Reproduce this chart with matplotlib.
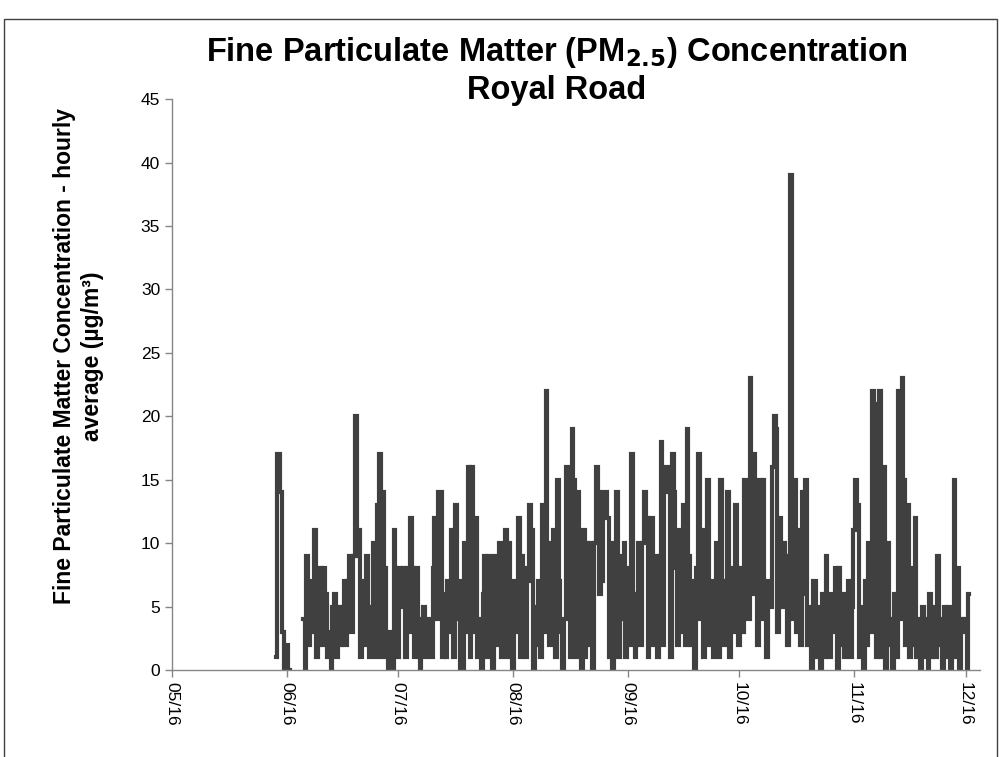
import numpy as np
import pandas as pd
import matplotlib
matplotlib.use("Agg")
import matplotlib.pyplot as plt
import matplotlib.dates as mdates
from matplotlib.patches import Rectangle

plt.rcParams['font.family'] = ['Liberation Sans', 'DejaVu Sans']

# PM2.5 readings, one value every 12 hours (nan = no data)
nan = np.nan
may_vals = [1, 17, 17, 14, 3, 0]
jun_vals = [2, 0, nan, nan, nan, nan, nan, nan, nan, 4, 0, 9, 2, 7, 3, 11, 1, 6, 8, 2,
            8, 6, 1, 3, 0, 5, 6, 1, 5, 2, 5, 7, 2, 7, 9, 3, 9, 20, 9, 11,
            1, 7, 2, 9, 5, 1, 5, 10, 1, 13, 17, 1, 14, 8, 1, 0, 3, 0, 11, 8]
jul_vals = [1, 8, 5, 8, 1, 8, 3, 12, 8, 1, 8, 4, 0, 2, 5, 1, 2, 4, 1, 8,
            12, 4, 14, 14, 1, 6, 1, 7, 3, 11, 1, 13, 4, 7, 0, 0, 10, 3, 16, 1,
            16, 3, 12, 1, 4, 0, 6, 9, 1, 9, 6, 0, 9, 2, 4, 10, 1, 4, 11, 1, 10, 2]
aug_vals = [0, 7, 3, 12, 1, 9, 8, 1, 7, 13, 11, 0, 5, 2, 7, 1, 13, 3, 22, 10,
            2, 7, 11, 1, 15, 7, 3, 0, 4, 16, 9, 1, 19, 15, 1, 14, 10, 0, 11, 1,
            10, 2, 10, 0, 10, 16, 14, 6, 7, 14, 14, 12, 1, 10, 0, 8, 14, 1, 9, 4, 10, 1]
sep_vals = [8, 2, 17, 6, 1, 6, 10, 2, 10, 14, 12, 1, 7, 12, 2, 9, 1, 9, 18, 2,
            16, 16, 14, 1, 17, 14, 8, 2, 11, 3, 13, 2, 19, 9, 2, 7, 0, 8, 17, 4,
            11, 1, 6, 15, 2, 7, 1, 4, 10, 1, 15, 7, 2, 7, 14, 1, 8, 3, 13, 8]
oct_vals = [2, 8, 3, 15, 10, 4, 23, 6, 17, 14, 2, 15, 4, 15, 5, 1, 7, 5, 16, 20,
            19, 3, 12, 5, 10, 9, 2, 9, 39, 4, 15, 3, 11, 2, 14, 6, 15, 2, 5, 0,
            7, 7, 1, 5, 0, 6, 1, 9, 2, 1, 6, 3, 8, 0, 8, 2, 6, 1, 2, 7, 1, 5]
nov_vals = [11, 15, 13, 1, 5, 0, 7, 2, 10, 3, 22, 21, 1, 10, 22, 1, 16, 0, 10, 2,
            4, 0, 6, 1, 22, 4, 23, 15, 2, 13, 1, 8, 2, 12, 1, 4, 0, 5, 1, 4,
            0, 6, 1, 5, 1, 9, 2, 4, 0, 5, 1, 5, 0, 2, 15, 1, 8, 0, 4, 3]
dec_vals = [4, 0, 6]

series_start = "2016-05-29 00:00"
step = "12h"

pm25 = np.array(may_vals + jun_vals + jul_vals + aug_vals + sep_vals
                + oct_vals + nov_vals + dec_vals, dtype=float)
times = pd.date_range(series_start, periods=len(pm25), freq=step)

title_1 = "Fine Particulate Matter (PM$_{\\mathbf{2.5}}$) Concentration"
title_2 = "Royal Road"
ylabel = "Fine Particulate Matter Concentration - hourly\naverage (µg/m³)"

fig = plt.figure(figsize=(10.03, 7.57), dpi=100)
ax = fig.add_axes([0.1715, 0.115, 0.806, 0.754])

ax.plot(times, pm25, color='#404040', lw=3.0, drawstyle='steps-mid',
        solid_joinstyle='miter')

ax.set_ylim(0, 45)
ax.set_yticks(range(0, 46, 5))
ax.set_xlim(pd.Timestamp("2016-05-01"), pd.Timestamp("2016-12-05"))
ax.xaxis.set_major_locator(mdates.MonthLocator())
ax.xaxis.set_major_formatter(mdates.DateFormatter('%m/%y'))
ax.tick_params(axis='x', labelrotation=-90)

for s in ['top', 'right']:
    ax.spines[s].set_visible(False)
for s in ['left', 'bottom']:
    ax.spines[s].set_color('#868686')
    ax.spines[s].set_linewidth(1)
ax.tick_params(colors='#868686', labelcolor='black', labelsize=12.5, length=5, width=1)

fig.text(0.078, 0.53, ylabel, rotation=90, ha='center', va='center',
         fontsize=16.5, fontweight='bold', linespacing=1.3, multialignment='center')
fig.text(0.555, 1 - 53 / 757, title_1, ha='center', va='center', fontsize=23.5,
         fontweight='bold')
fig.text(0.555, 1 - 90 / 757, title_2, ha='center', va='center', fontsize=23.5,
         fontweight='bold')

fig.patches.append(Rectangle((0.004, -0.01), 0.99, 0.985, transform=fig.transFigure,
                             fill=False, edgecolor='#404040', lw=1))

fig.savefig('out.png', dpi=100)
